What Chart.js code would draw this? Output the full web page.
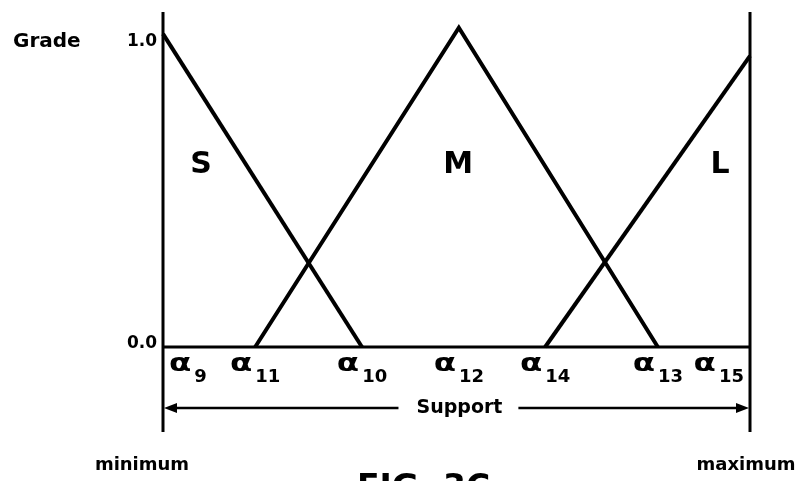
<!DOCTYPE html>
<html>
<head>
<meta charset="utf-8">
<script src="https://cdn.jsdelivr.net/npm/chart.js@4"></script>
<style>
  html, body { margin: 0; padding: 0; background: #fff; }
  #wrap { width: 798px; height: 481px; }
</style>
</head>
<body>
<div id="wrap"><canvas id="chart" width="798" height="481"></canvas></div>
<script>
// breakpoints on the support axis (alpha_9 .. alpha_15), in % of support
const alphaSubs = ['9', '11', '10', '12', '14', '13', '15'];
const alphaValues = [0, 15.7, 33.9, 50.4, 65.1, 84.3, 100];

// membership functions
const seriesNames = ['S', 'M', 'L'];
const sX = [0, 33.9];
const sY = [1.0, 0.0];
const mX = [15.7, 50.4, 84.3];
const mY = [0.0, 1.02, 0.0];
const lX = [65.1, 100];
const lY = [0.0, 0.93];

// grade ticks
const gradeTicks = [0, 1];
const gradeTickLabels = ['0.0', '1.0'];

const FONT = '"DejaVu Sans", sans-serif';

function pts(xs, ys) {
    return xs.map((x, i) => ({ x: x, y: ys[i] }));
}

function lineSet(name, xs, ys) {
    return {
        label: name,
        data: pts(xs, ys),
        borderColor: '#000',
        borderWidth: 4,
        borderCapStyle: 'butt',
        borderJoinStyle: 'miter',
        pointRadius: 0,
        tension: 0,
        fill: false,
        clip: false
    };
}

// axes, labels and the "Support" arrow
const decor = {
    id: 'decor',
    afterDatasetsDraw(chart) {
        const ctx = chart.ctx;
        const xs = chart.scales.x;
        const ys = chart.scales.y;
        const top = chart.chartArea.top;
        const left = xs.getPixelForValue(0);
        const right = xs.getPixelForValue(100);
        const base = ys.getPixelForValue(0);

        ctx.save();
        ctx.strokeStyle = '#000';
        ctx.fillStyle = '#000';

        // vertical bounds (minimum / maximum) and baseline
        ctx.lineWidth = 3;
        ctx.beginPath();
        ctx.moveTo(left, top); ctx.lineTo(left, base + 85);
        ctx.moveTo(right, top); ctx.lineTo(right, base + 85);
        ctx.moveTo(left, base); ctx.lineTo(right, base);
        ctx.stroke();

        // grade tick labels
        ctx.font = 'bold 17px ' + FONT;
        ctx.textAlign = 'right';
        ctx.textBaseline = 'middle';
        gradeTicks.forEach((v, i) => {
            const py = ys.getPixelForValue(v) + (v > 0 ? 8 : -3);
            ctx.fillText(gradeTickLabels[i], left - 6, py);
        });
        ctx.font = 'bold 20px ' + FONT;
        ctx.textAlign = 'left';
        ctx.fillText('Grade', 13, ys.getPixelForValue(1) + 8);

        // series names
        ctx.font = 'bold 30px ' + FONT;
        ctx.textAlign = 'center';
        const namePos = { S: [6.5, 0.58], M: [50.3, 0.58], L: [94.9, 0.58] };
        seriesNames.forEach(n => {
            ctx.fillText(n, xs.getPixelForValue(namePos[n][0]), ys.getPixelForValue(namePos[n][1]));
        });

        // alpha labels under the baseline (alpha drawn a bit wider, like the scan)
        const stretch = 1.3;
        ctx.textAlign = 'left';
        ctx.textBaseline = 'alphabetic';
        alphaValues.forEach((v, i) => {
            ctx.font = 'bold 25px ' + FONT;
            const wa = ctx.measureText('α').width * stretch;
            ctx.font = 'bold 18px ' + FONT;
            const ws = ctx.measureText(alphaSubs[i]).width;
            const w = wa + 3 + ws;
            let x0 = xs.getPixelForValue(v) - w / 2;
            x0 = Math.max(x0, left + 6);
            x0 = Math.min(x0, right - 6 - w);
            ctx.save();
            ctx.translate(x0, base + 24);
            ctx.scale(stretch, 1);
            ctx.font = 'bold 25px ' + FONT;
            ctx.fillText('α', 0, 0);
            ctx.restore();
            ctx.font = 'bold 18px ' + FONT;
            ctx.fillText(alphaSubs[i], x0 + wa + 3, base + 35);
        });

        // Support arrow
        const ay = base + 61;
        ctx.font = 'bold 19px ' + FONT;
        ctx.textAlign = 'center';
        ctx.textBaseline = 'middle';
        const mid = xs.getPixelForValue(50.5);
        const tw = ctx.measureText('Support').width;
        ctx.fillText('Support', mid, ay);
        ctx.lineWidth = 2.5;
        ctx.beginPath();
        ctx.moveTo(left + 8, ay); ctx.lineTo(mid - tw / 2 - 18, ay);
        ctx.moveTo(mid + tw / 2 + 16, ay); ctx.lineTo(right - 8, ay);
        ctx.stroke();
        ctx.beginPath();
        ctx.moveTo(left + 1, ay); ctx.lineTo(left + 14, ay - 5); ctx.lineTo(left + 14, ay + 5); ctx.closePath();
        ctx.moveTo(right - 1, ay); ctx.lineTo(right - 14, ay - 5); ctx.lineTo(right - 14, ay + 5); ctx.closePath();
        ctx.fill();

        // minimum / maximum and figure caption
        ctx.font = 'bold 18px ' + FONT;
        ctx.textAlign = 'center';
        ctx.fillText('minimum', 142, 465);
        ctx.fillText('maximum', 746, 465);
        ctx.font = 'bold 33px ' + FONT;
        ctx.textAlign = 'left';
        ctx.textBaseline = 'alphabetic';
        ctx.fillText('FIG. 3C', 357, 498);
        ctx.restore();
    }
};

new Chart(document.getElementById('chart'), {
    type: 'line',
    data: {
        datasets: [
            lineSet(seriesNames[0], sX, sY),
            lineSet(seriesNames[1], mX, mY),
            lineSet(seriesNames[2], lX, lY)
        ]
    },
    options: {
        responsive: false,
        animation: false,
        layout: { padding: { left: 163, right: 48, top: 12, bottom: 134 } },
        scales: {
            x: { type: 'linear', min: 0, max: 100, display: false },
            y: { min: 0, max: 1.07, display: false }
        },
        plugins: {
            legend: { display: false },
            tooltip: { enabled: false }
        }
    },
    plugins: [decor]
});
</script>
</body>
</html>
